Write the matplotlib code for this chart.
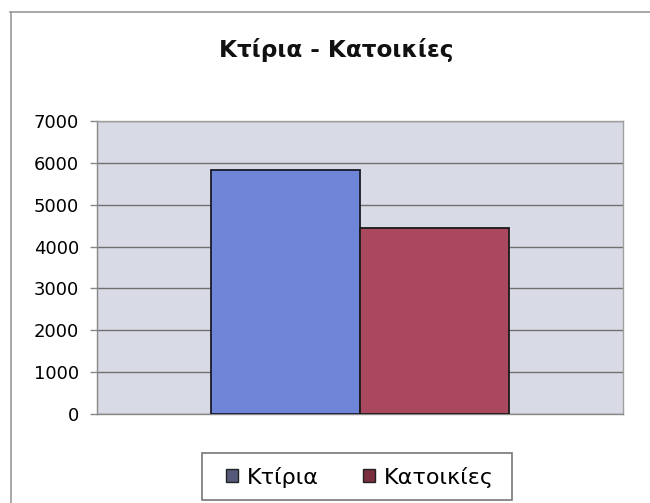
import matplotlib
matplotlib.use("Agg")
import matplotlib.pyplot as plt
from matplotlib.patches import Patch, Rectangle
from matplotlib.lines import Line2D

plt.rcParams['font.family'] = ['DejaVu Sans']

title = "Κτίρια - Κατοικίες"
series = ["Κτίρια", "Κατοικίες"]
values = [5820, 4450]
colors = ["#6f86d8", "#a9485f"]
legend_colors = ["#55597a", "#7a2e3e"]
yticks = [0, 1000, 2000, 3000, 4000, 5000, 6000, 7000]

fig = plt.figure(figsize=(6.5, 5.03), dpi=100)
fig.patch.set_facecolor("white")

# chart-area border (partial, as in scan)
fig.add_artist(Line2D([10/650, 1.0], [1 - 12/503, 1 - 12/503], color="#9a9a9a", lw=1.2))
fig.add_artist(Line2D([11/650, 11/650], [0, 1 - 12/503], color="#9a9a9a", lw=1.2))

ax = fig.add_axes([97/650, 1 - 414/503, 526/650, 293/503])
ax.set_facecolor("#d8dbe5")

w = 0.2833
ax.bar([-w/2], [values[0]], width=w, color=colors[0], edgecolor="#1a1a2a", linewidth=1.3, zorder=3)
ax.bar([w/2], [values[1]], width=w, color=colors[1], edgecolor="#1a1a1a", linewidth=1.3, zorder=3)

ax.set_xlim(-0.5, 0.5)
ax.set_ylim(0, 7000)
ax.set_yticks(yticks)
ax.set_yticklabels([str(t) for t in yticks], fontsize=13, color="#000000")
ax.yaxis.grid(True, color="#707070", linewidth=1.0, zorder=1)
ax.set_xticks([])
ax.tick_params(axis="y", length=5, width=1, color="#888888", pad=8)
for s in ["top", "right"]:
    ax.spines[s].set_color("#a0a0a0")
    ax.spines[s].set_linewidth(1.0)
for s in ["left", "bottom"]:
    ax.spines[s].set_color("#888888")
    ax.spines[s].set_linewidth(1.0)

fig.text(336/650, 1 - 50/503, title, ha="center", va="center",
         fontsize=16.7, fontweight="bold", color="#111111")

# legend frame drawn explicitly (Excel-style wide padding)
fig.add_artist(Rectangle((202/650, 1 - 500/503), 310/650, 47/503,
                         transform=fig.transFigure, facecolor="white",
                         edgecolor="#777777", linewidth=1.2))
handles = [Patch(facecolor=legend_colors[i], edgecolor="#222222", label=series[i]) for i in range(2)]
leg = fig.legend(handles=handles, loc="center", bbox_to_anchor=(360/650, 1 - 477/503),
                 ncol=2, fontsize=16, frameon=False, handlelength=0.55,
                 handleheight=0.55, handletextpad=0.4, columnspacing=2.0,
                 borderpad=0.3)

fig.savefig("out.png", dpi=100)
